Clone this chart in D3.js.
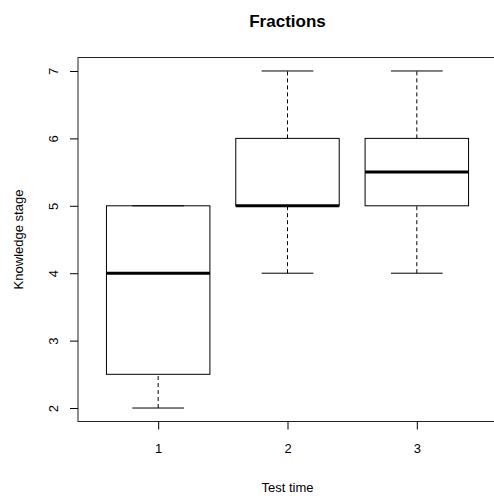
<!DOCTYPE html>
<html>
<head>
<meta charset="utf-8">
<script src="https://cdn.jsdelivr.net/npm/d3@7"></script>
<style>
body { margin: 0; background: #fff; }
text { font-family: "Liberation Sans", Arial, sans-serif; fill: #000; }
</style>
</head>
<body>
<div class="c_chart"></div>
<script>
// data
const groups = [1, 2, 3];
const mins = [2, 4, 4];
const q1s = [2.5, 5, 5];
const medians = [4, 5, 5.5];
const q3s = [5, 6, 6];
const maxs = [5, 7, 7];
const yTicks = [2, 3, 4, 5, 6, 7];

const width = 494, height = 496;
const plot = {left: 78, right: 497, top: 57.5, bottom: 421.5};

let svg = d3.select(".c_chart").append("svg")
	.attr("width", width)
	.attr("height", height);

// R style: range extended by 4%
let x = d3.scaleLinear().domain([0.38, 3.62]).range([plot.left, plot.right]);
let y = d3.scaleLinear().domain([1.8, 7.2]).range([plot.bottom, plot.top]);

const boxes = groups.map((g, i) => ({g: g, min: mins[i], q1: q1s[i], med: medians[i], q3: q3s[i], max: maxs[i]}));
const halfBox = 0.4, halfCap = 0.2;

let gBox = svg.selectAll(".box")
	.data(boxes)
	.enter()
	.append("g")
	.attr("class", "box");

// whiskers
gBox.append("line")
	.attr("x1", d => x(d.g)).attr("x2", d => x(d.g))
	.attr("y1", d => y(d.min)).attr("y2", d => y(d.q1))
	.attr("stroke", "#000").attr("stroke-dasharray", "4,3");
gBox.append("line")
	.attr("x1", d => x(d.g)).attr("x2", d => x(d.g))
	.attr("y1", d => y(d.q3)).attr("y2", d => y(d.max))
	.attr("stroke", "#000").attr("stroke-dasharray", "4,3");

// caps
gBox.append("line")
	.attr("x1", d => x(d.g - halfCap)).attr("x2", d => x(d.g + halfCap))
	.attr("y1", d => y(d.min)).attr("y2", d => y(d.min))
	.attr("stroke", "#000");
gBox.append("line")
	.attr("x1", d => x(d.g - halfCap)).attr("x2", d => x(d.g + halfCap))
	.attr("y1", d => y(d.max)).attr("y2", d => y(d.max))
	.attr("stroke", "#000");

// box
gBox.append("rect")
	.attr("x", d => x(d.g - halfBox))
	.attr("width", d => x(d.g + halfBox) - x(d.g - halfBox))
	.attr("y", d => y(d.q3))
	.attr("height", d => y(d.q1) - y(d.q3))
	.attr("fill", "none").attr("stroke", "#000");

// median
gBox.append("line")
	.attr("x1", d => x(d.g - halfBox)).attr("x2", d => x(d.g + halfBox))
	.attr("y1", d => y(d.med)).attr("y2", d => y(d.med))
	.attr("stroke", "#000").attr("stroke-width", 3);

// frame
svg.append("rect")
	.attr("x", plot.left).attr("y", plot.top)
	.attr("width", plot.right - plot.left).attr("height", plot.bottom - plot.top)
	.attr("fill", "none").attr("stroke", "#222");

// axes
let xAxis = svg.append("g")
	.attr("transform", `translate(0,${plot.bottom})`)
	.call(d3.axisBottom(x).tickValues(groups).tickSize(8).tickPadding(14).tickFormat(d3.format("d")));
xAxis.select(".domain").remove();
xAxis.selectAll("text").attr("font-size", 13).style("font-family", "Liberation Sans, Arial, sans-serif");

let yAxis = svg.append("g")
	.attr("transform", `translate(${plot.left},0)`)
	.call(d3.axisLeft(y).tickValues(yTicks).tickSize(8).tickFormat(d3.format("d")));
yAxis.select(".domain").remove();
yAxis.selectAll("text")
	.attr("font-size", 13)
	.style("font-family", "Liberation Sans, Arial, sans-serif")
	.attr("text-anchor", "middle")
	.attr("x", null)
	.attr("transform", "translate(-25,0) rotate(-90)")
	.attr("dy", "0.35em");

// titles
svg.append("text")
	.attr("x", (plot.left + plot.right) / 2).attr("y", 27)
	.attr("text-anchor", "middle")
	.attr("font-size", 17).attr("font-weight", "bold")
	.text("Fractions");

svg.append("text")
	.attr("x", (plot.left + plot.right) / 2).attr("y", 492)
	.attr("text-anchor", "middle")
	.attr("font-size", 13)
	.text("Test time");

svg.append("text")
	.attr("transform", `translate(23,${(plot.top + plot.bottom) / 2}) rotate(-90)`)
	.attr("text-anchor", "middle")
	.attr("font-size", 13)
	.text("Knowledge stage");
</script>
</body>
</html>
